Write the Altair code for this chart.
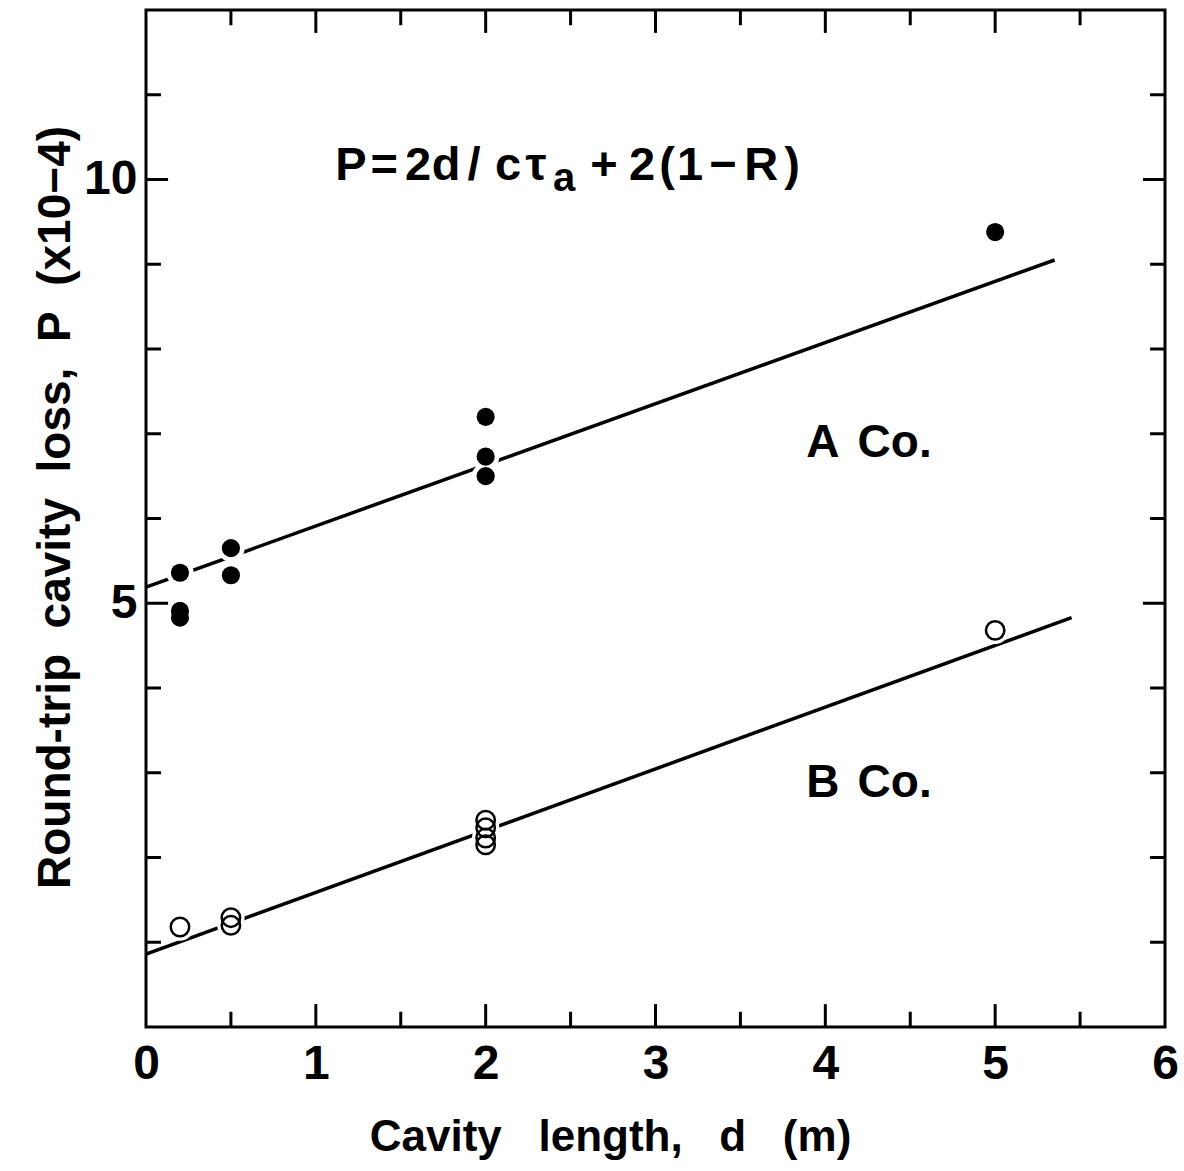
import altair as alt
import pandas as pd

# ---- data ----
A_x = [0.2, 0.2, 0.2, 0.5, 0.5, 2, 2, 2, 5]
A_y = [5.36, 4.91, 4.83, 5.65, 5.33, 7.20, 6.73, 6.50, 9.38]
B_x = [0.2, 0.5, 0.5, 2, 2, 2, 2, 5]
B_y = [1.18, 1.29, 1.20, 2.44, 2.35, 2.23, 2.15, 4.68]
lineA_x = [0, 5.35]
lineA_y = [5.19, 9.05]
lineB_x = [0, 5.45]
lineB_y = [0.86, 4.83]

x_labels = [0, 1, 2, 3, 4, 5, 6]
y_labels = [5, 10]
x_minor = [0.5, 1.5, 2.5, 3.5, 4.5, 5.5]
x_major = [1, 2, 3, 4, 5]
y_minor = [1, 2, 3, 4, 6, 7, 8, 9, 11]
y_major = [5, 10]

# formula "P=2d/cτa+2(1−R)" laid out glyph by glyph (wide letter spacing)
f_chars = ["P", "=", "2", "d", "/", "c", "τ", "a", "+", "2", "(", "1", "−", "R", ")"]
f_x = [1.207, 1.402, 1.602, 1.767, 1.932, 2.132, 2.297, 2.462,
       2.697, 2.921, 3.068, 3.204, 3.398, 3.622, 3.804]
f_y = [10.0] * 7 + [9.86] + [10.0] * 7
f_size = [47] * 7 + [40] + [47] * 7

lab_text = ["A", "Co.", "B", "Co."]
lab_x = [3.887, 4.19, 3.887, 4.19]
lab_y = [6.726, 6.726, 2.714, 2.714]

FONT = "Liberation Sans"
NB = "\u00a0"
W, H = 1019, 1017
XD, YD = [0, 6], [0, 12]
MAJ_Y, MIN_Y = 0.27, 0.18      # tick lengths on x-axes, in y units
MAJ_X, MIN_X = 0.13, 0.088     # tick lengths on y-axes, in x units

xs = alt.Scale(domain=XD, nice=False, zero=False)
ys = alt.Scale(domain=YD, nice=False, zero=False)

dfA = pd.DataFrame({"x": A_x, "y": A_y})
dfB = pd.DataFrame({"x": B_x, "y": B_y})
dfL = pd.DataFrame({"x": lineA_x + lineB_x, "y": lineA_y + lineB_y,
                    "s": ["A"] * 2 + ["B"] * 2})

xtitle = (NB * 3).join(["Cavity", "length,", "d", "(m)"])
ytitle = (NB * 2).join(["Round-trip", "cavity", "loss,", "P", "(x10−4)"])

xaxis = alt.Axis(values=x_labels, grid=False, ticks=False, domain=False,
                 format="d", labelFlush=False,
                 labelFont=FONT, labelFontSize=48, labelFontWeight="bold",
                 labelPadding=13, labelColor="black",
                 title=xtitle, titleFont=FONT,
                 titleFontSize=44, titleFontWeight="bold", titleColor="black",
                 titleX=464, titleY=110, titleBaseline="middle")
yaxis = alt.Axis(values=y_labels, grid=False, ticks=False, domain=False,
                 format="d", labelFlush=False,
                 labelFont=FONT, labelFontSize=48, labelFontWeight="bold",
                 labelPadding=9, labelColor="black",
                 title=ytitle, titleFont=FONT,
                 titleFontSize=46, titleFontWeight="bold", titleColor="black",
                 titleX=-91, titleY=497, titleAngle=270, titleBaseline="middle")

lines = alt.Chart(dfL).mark_line(color="black", strokeWidth=3.5).encode(
    x=alt.X("x:Q", scale=xs, axis=xaxis),
    y=alt.Y("y:Q", scale=ys, axis=yaxis),
    detail="s:N",
)

halo = alt.Chart(pd.concat([dfA, dfB])).mark_circle(
    color="white", opacity=1, size=750).encode(
    x=alt.X("x:Q", scale=xs), y=alt.Y("y:Q", scale=ys))

ptsA = alt.Chart(dfA).mark_circle(color="black", opacity=1, size=330).encode(
    x=alt.X("x:Q", scale=xs), y=alt.Y("y:Q", scale=ys))

ptsB = alt.Chart(dfB).mark_point(shape="circle", filled=False, color="black",
                                 strokeWidth=2.5, size=340, opacity=1).encode(
    x=alt.X("x:Q", scale=xs), y=alt.Y("y:Q", scale=ys))

# ---- inward ticks ----
def vticks(vals, base, length):
    return pd.DataFrame({"x": vals, "y": [base] * len(vals),
                         "y2": [base + length] * len(vals)})

def hticks(vals, base, length):
    return pd.DataFrame({"y": vals, "x": [base] * len(vals),
                         "x2": [base + length] * len(vals)})

vt = pd.concat([vticks(x_major, 0, MAJ_Y), vticks(x_minor, 0, MIN_Y),
                vticks(x_major, 12, -MAJ_Y), vticks(x_minor, 12, -MIN_Y)])
ht = pd.concat([hticks(y_major, 0, MAJ_X), hticks(y_minor, 0, MIN_X),
                hticks(y_major, 6, -MAJ_X), hticks(y_minor, 6, -MIN_X)])

vrules = alt.Chart(vt).mark_rule(color="black", strokeWidth=3).encode(
    x=alt.X("x:Q", scale=xs), y=alt.Y("y:Q", scale=ys), y2="y2:Q")
hrules = alt.Chart(ht).mark_rule(color="black", strokeWidth=3).encode(
    y=alt.Y("y:Q", scale=ys), x=alt.X("x:Q", scale=xs), x2="x2:Q")

# ---- annotations ----
dfF = pd.DataFrame({"x": f_x, "y": f_y, "t": f_chars, "fs": f_size})
formula = alt.Chart(dfF).mark_text(font=FONT, fontWeight="bold", color="black",
                                   align="center", baseline="alphabetic").encode(
    x=alt.X("x:Q", scale=xs), y=alt.Y("y:Q", scale=ys), text="t:N",
    size=alt.Size("fs:Q", scale=None, legend=None))

dfT = pd.DataFrame({"x": lab_x, "y": lab_y, "t": lab_text})
labels = alt.Chart(dfT).mark_text(font=FONT, fontWeight="bold", color="black",
                                  align="left", baseline="alphabetic",
                                  fontSize=46).encode(
    x=alt.X("x:Q", scale=xs), y=alt.Y("y:Q", scale=ys), text="t:N")

chart = alt.layer(lines, halo, ptsA, ptsB, vrules, hrules, formula, labels).properties(
    width=W, height=H,
    autosize=alt.AutoSizeParams(type="none"),
    padding={"left": 146, "top": 10, "right": 19, "bottom": 144},
    background="white",
).configure_view(stroke="black", strokeWidth=3)

chart.save("out.html", embed_options={"renderer": "svg", "actions": False})
